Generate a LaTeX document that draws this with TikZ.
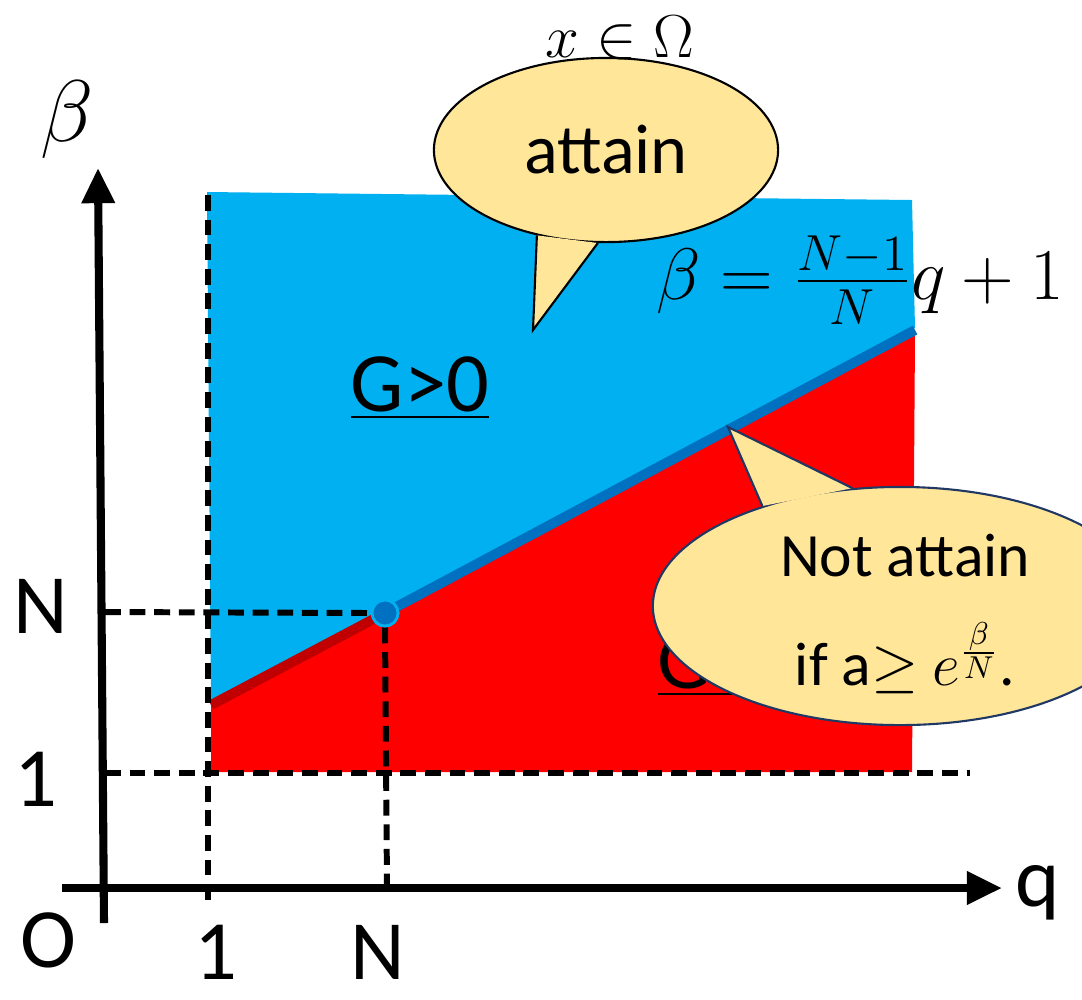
\documentclass[tikz,border=0pt]{standalone}
\usepackage{fontspec}
\setmainfont{Carlito}
\usetikzlibrary{arrows.meta,shapes.geometric}
\definecolor{SkyFill}{HTML}{00B0F0}
\definecolor{RedFill}{HTML}{FF0000}
\definecolor{DarkRed}{HTML}{C00000}
\definecolor{LineBlue}{HTML}{0070C0}
\definecolor{BubbleFill}{HTML}{FFE699}
\definecolor{Navy}{HTML}{203864}
\tikzset{
  axis/.style={line width=2.3pt,-{Triangle[length=10pt,width=9pt]}},
  guide/.style={line width=1.7pt,dash pattern=on 4.5pt off 2.5pt},
  border/.style={line width=2.8pt},
  bubble/.style={ellipse,draw=#1,fill=BubbleFill,line width=0.6pt,inner sep=0pt},
  tail/.style={fill=BubbleFill,line width=0.6pt,draw=#1},
  ticklbl/.style={font=\fontsize{24}{24}\selectfont,inner sep=1pt},
  bigtxt/.style={font=\fontsize{24}{24}\selectfont},
  bubtxt/.style={font=\fontsize{17.5}{31}\selectfont,align=center}
}
\begin{document}
\begin{tikzpicture}[x=0.01cm,y=-0.01cm]
  \useasboundingbox (0,0) rectangle (1082,999);
  % regions
  \fill[SkyFill] (207,192) -- (912,200) -- (915,328) -- (211,705) -- cycle;
  \fill[RedFill] (211,705) -- (915,334) -- (912,772) -- (211,772) -- cycle;
  % the line beta = (N-1)/N q + 1
  \coordinate (lstart) at (211,705);
  \coordinate (lend) at (915,330);
  \node[circle,fill=LineBlue,draw=SkyFill,line width=0.8pt,minimum size=0.26cm,inner sep=0pt] (pt) at (385,613) {};
  \draw[border,DarkRed] (lstart) -- (pt.center);
  \draw[border,LineBlue] (pt.center) -- (lend);
  % guides
  \coordinate (vtop) at (208,195);
  \coordinate (vbot) at (208,905);
  \coordinate (nleft) at (105,612);
  \coordinate (nfoot) at (387,888);
  \coordinate (oneleft) at (105,773);
  \coordinate (oneright) at (970,773);
  \draw[guide] (vtop) -- (vbot);
  \draw[guide] (nleft) -- (pt.west);
  \draw[guide] (pt.south) -- (nfoot);
  \draw[guide] (oneleft) -- (oneright);
  \node[circle,fill=LineBlue,draw=SkyFill,line width=0.8pt,minimum size=0.26cm,inner sep=0pt] at (pt) {};
  % axes
  \coordinate (ybot) at (104,923);
  \coordinate (ytop) at (98,168);
  \coordinate (xleft) at (62,888);
  \coordinate (xright) at (1002,888);
  \draw[axis] (ybot) -- (ytop);
  \draw[axis] (xleft) -- (xright);
  \node[font=\fontsize{24}{24}\selectfont] (betalbl) at (67,120) {$\beta$};
  \node[ticklbl] (qlbl) at (1038,893) {q};
  \node[ticklbl] (olbl) at (48,940) {O};
  \node[ticklbl] (onex) at (216,952) {1};
  \node[ticklbl] (nx) at (378,952) {N};
  \node[ticklbl] (ny) at (41,606) {N};
  \node[ticklbl] (oney) at (36,779) {1};
  % region names
  \node[bigtxt] (gpos) at (420,388) {\underline{G>0}};
  \node[bigtxt] (gneg) at (727,665) {\underline{G<0}};
  % bubbles
  \node[bubble=black,minimum width=3.44cm,minimum height=1.84cm,font=\fontsize{20}{20}\selectfont] (attain) at (606,150) {attain};
  \coordinate (attaintip) at (533,330);
  \filldraw[tail=black] (attain.231) -- (attaintip) -- (attain.265);
  \node[font=\fontsize{16}{16}\selectfont] (omega) at (620,38) {$x\in\Omega$};
  \node[bubble=Navy,minimum width=4.94cm,minimum height=2.38cm] (notbub) at (900,606) {};
  \coordinate (nottip) at (728,427);
  \filldraw[tail=Navy] (notbub.144) -- (nottip) -- (notbub.112);
  \node[bubtxt] (notattain) at (905,614) {Not attain\\if a$\geq$ $e^{\frac{\beta}{N}}$.};
  % formula
  \node[font=\fontsize{22}{22}\selectfont] (formula) at (860,280) {$\beta=\frac{N-1}{N}q+1$};
\end{tikzpicture}
\end{document}
